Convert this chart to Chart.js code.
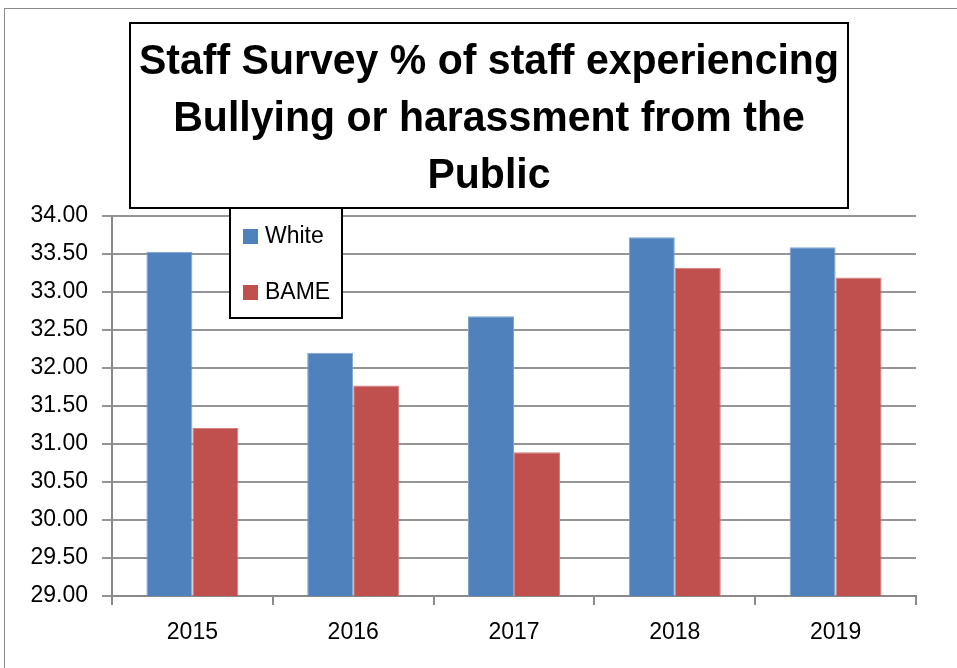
<!DOCTYPE html>
<html>
<head>
<meta charset="utf-8">
<title>Staff Survey - Bullying or harassment from the Public</title>
<script src="https://cdn.jsdelivr.net/npm/chart.js@4/dist/chart.umd.min.js"></script>
<style>
  html, body { margin: 0; padding: 0; background: #fff; }
  #wrap { width: 957px; height: 668px; }
</style>
</head>
<body>
<div id="wrap"><canvas id="surveyChart" width="957" height="668"></canvas></div>
<script>
'use strict';

// ---- Data ----
const years = ['2015', '2016', '2017', '2018', '2019'];
const whiteValues = [33.53, 32.20, 32.68, 33.72, 33.59];
const bameValues = [31.21, 31.77, 30.89, 33.32, 33.19];
const seriesNames = ['White', 'BAME'];
const titleLines = ['Staff Survey % of staff experiencing', 'Bullying or harassment from the', 'Public'];
const yMin = 29, yMax = 34, yStep = 0.5;

const FONT = "'Liberation Sans', Arial, sans-serif";

// White page with the thin grey chart frame running off right/bottom
const framePlugin = {
  id: 'frame',
  beforeDraw(chart) {
    const ctx = chart.ctx;
    ctx.save();
    ctx.fillStyle = '#fff';
    ctx.fillRect(0, 0, chart.width, chart.height);
    ctx.strokeStyle = '#8a8a8a';
    ctx.lineWidth = 1;
    ctx.strokeRect(4.5, 8.5, chart.width + 20, chart.height + 20);
    ctx.restore();
  }
};

// Legend box sitting inside the plot, top-left
const legendBoxPlugin = {
  id: 'legendBox',
  afterDraw(chart) {
    const ctx = chart.ctx;
    const x = 230, y = 207, w = 112, h = 111;
    ctx.save();
    ctx.fillStyle = '#fff';
    ctx.fillRect(x, y, w, h);
    ctx.strokeStyle = '#000';
    ctx.lineWidth = 2;
    ctx.strokeRect(x, y, w, h);
    ctx.font = '23px ' + FONT;
    ctx.textBaseline = 'middle';
    chart.data.datasets.forEach((ds, i) => {
      const cy = y + 29 + i * 56;
      ctx.fillStyle = ds.backgroundColor;
      ctx.fillRect(x + 13, cy - 7, 15, 15);
      ctx.fillStyle = '#000';
      ctx.fillText(ds.label, x + 35, cy + 1);
    });
    ctx.restore();
  }
};

// Boxed three-line bold title overlapping the top of the plot
const titleBoxPlugin = {
  id: 'titleBox',
  afterDraw(chart) {
    const ctx = chart.ctx;
    const x = 130, y = 23, w = 718, h = 185;
    ctx.save();
    ctx.fillStyle = '#fff';
    ctx.fillRect(x, y, w, h);
    ctx.strokeStyle = '#000';
    ctx.lineWidth = 2;
    ctx.strokeRect(x, y, w, h);
    ctx.font = 'bold 42px ' + FONT;
    ctx.fillStyle = '#000';
    ctx.textAlign = 'center';
    ctx.textBaseline = 'alphabetic';
    // narrow the bold face a little so the long first line fits the box
    const widest = Math.max(...titleLines.map(t => ctx.measureText(t).width));
    const sx = Math.min(1, 700 / widest);
    const cx = x + w / 2;
    titleLines.forEach((t, i) => {
      ctx.save();
      ctx.translate(cx, 74 + i * 57);
      ctx.scale(sx, 1);
      ctx.fillText(t, 0, 0);
      ctx.restore();
    });
    ctx.restore();
  }
};

new Chart(document.getElementById('surveyChart'), {
  type: 'bar',
  data: {
    labels: years,
    datasets: [
      {
        label: seriesNames[0],
        data: whiteValues,
        backgroundColor: '#4F81BD',
        borderColor: '#7fa3d0',
        borderWidth: 1,
        barPercentage: 1.0,
        categoryPercentage: 0.572
      },
      {
        label: seriesNames[1],
        data: bameValues,
        backgroundColor: '#C0504D',
        borderColor: '#d27f7d',
        borderWidth: 1,
        barPercentage: 1.0,
        categoryPercentage: 0.572
      }
    ]
  },
  options: {
    responsive: false,
    animation: false,
    events: [],
    layout: { padding: { top: 216, right: 41, left: 0, bottom: 0 } },
    plugins: {
      legend: { display: false },
      title: { display: false },
      tooltip: { enabled: false }
    },
    scales: {
      x: {
        offset: true,
        grid: {
          offset: true,
          drawOnChartArea: false,
          drawTicks: true,
          tickLength: 9,
          color: '#8a8a8a',
          lineWidth: 2
        },
        border: { color: '#8a8a8a', width: 2 },
        ticks: { color: '#000', font: { family: FONT, size: 23 }, padding: 14 },
        afterFit: s => { s.height = 72; }
      },
      y: {
        min: yMin,
        max: yMax,
        grid: { color: '#959595', lineWidth: 2, tickLength: 10 },
        border: { color: '#8a8a8a', width: 2 },
        ticks: {
          stepSize: yStep,
          color: '#000',
          font: { family: FONT, size: 23 },
          padding: 14,
          callback: v => Number(v).toFixed(2)
        },
        afterFit: s => { s.width = 112; }
      }
    }
  },
  plugins: [framePlugin, legendBoxPlugin, titleBoxPlugin]
});
</script>
</body>
</html>
